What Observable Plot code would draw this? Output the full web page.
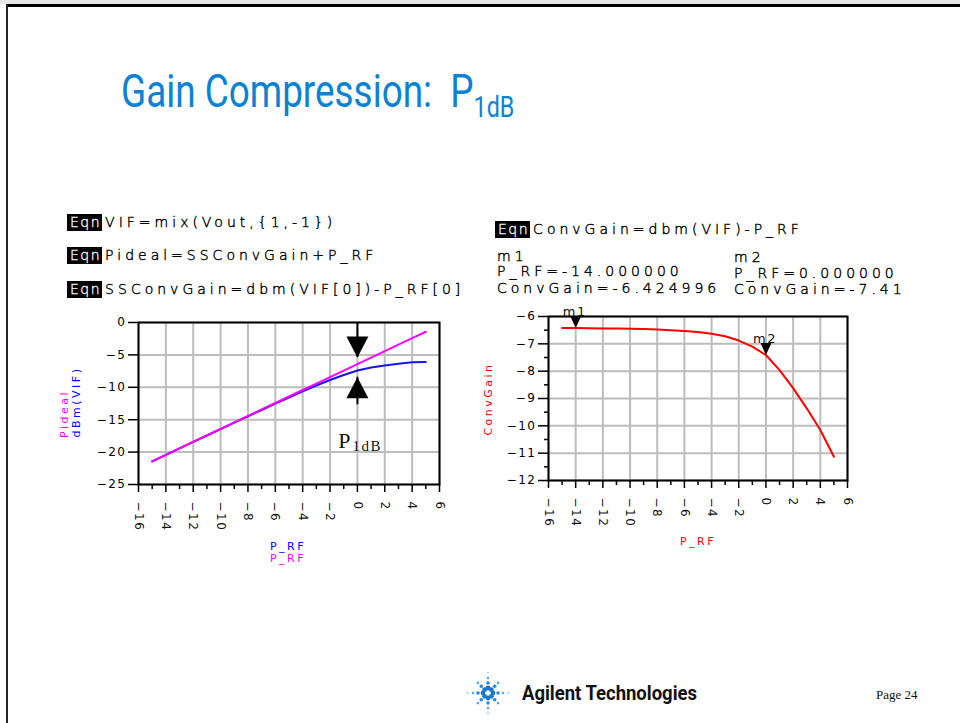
<!DOCTYPE html>
<html><head><meta charset="utf-8">
<script src="https://cdn.jsdelivr.net/npm/d3@7"></script>
<script src="https://cdn.jsdelivr.net/npm/@observablehq/plot@0.6"></script>
<style>
html,body{margin:0;padding:0;background:#fff;}
#page{position:relative;width:960px;height:723px;overflow:hidden;background:#fff;font-family:"DejaVu Sans",sans-serif;}
.abs{position:absolute;white-space:pre;}
.eq{font-size:14px;font-weight:200;-webkit-text-stroke:0.4px #000;letter-spacing:4px;color:#000;line-height:13px;height:13px;}
.eqn{display:inline-block;background:#000;color:#fff;-webkit-text-stroke:0.3px #fff;letter-spacing:1.5px;padding:2px 1px 2px 3px;margin-right:3px;line-height:13px;}
.axl{font-size:11px;letter-spacing:2.5px;transform:translate(-50%,-50%);line-height:11px;}
.rot{transform:translate(-50%,-50%) rotate(-90deg);}
g[aria-label="plain"] text{letter-spacing:0;}
</style></head>
<body><div id="page">
<div class="abs" style="left:0;top:0;width:960px;height:4px;background:#e6e6e6"></div>
<div class="abs" style="left:6px;top:4px;width:954px;height:3px;background:#000"></div>
<div class="abs" style="left:6px;top:4px;width:2px;height:719px;background:#222"></div>

<div id="title" class="abs" style="left:121px;top:68px;font-family:Roboto;font-size:46px;line-height:46px;color:#0a82d4;transform-origin:0 0"><span id="t1">Gain Compression:</span><span>  P</span><span style="font-size:29px;position:relative;top:10px">1dB</span></div>

<div class="abs eq" style="left:67px;top:214px"><span class="eqn">Eqn</span>VIF=mix(Vout,{1,-1})</div>
<div class="abs eq" style="left:67px;top:247px"><span class="eqn">Eqn</span>Pideal=SSConvGain+P_RF</div>
<div class="abs eq" style="left:67px;top:281px"><span class="eqn">Eqn</span>SSConvGain=dbm(VIF[0])-P_RF[0]</div>
<div class="abs eq" style="left:495px;top:221px"><span class="eqn">Eqn</span>ConvGain=dbm(VIF)-P_RF</div>
<div class="abs eq" style="left:497px;top:250px">m1</div>
<div class="abs eq" style="left:497px;top:265px">P_RF=-14.000000</div>
<div class="abs eq" style="left:497px;top:282px">ConvGain=-6.424996</div>
<div class="abs eq" style="left:734px;top:251px">m2</div>
<div class="abs eq" style="left:734px;top:267px">P_RF=0.000000</div>
<div class="abs eq" style="left:734px;top:283px">ConvGain=-7.41</div>

<div id="leftChart" class="abs" style="left:50px;top:300px"></div>
<div id="rightChart" class="abs" style="left:480px;top:300px"></div>

<div class="abs axl rot" style="left:64px;top:414px;color:#ff00ff">Pideal</div>
<div class="abs axl rot" style="left:76px;top:402px;color:#0000ff">dBm(VIF)</div>
<div class="abs axl" style="left:288px;top:546px;color:#0000ff">P_RF</div>
<div class="abs axl" style="left:288px;top:558px;color:#ff00ff">P_RF</div>
<div class="abs axl rot" style="left:488px;top:399px;color:#ff0000">ConvGain</div>
<div class="abs axl" style="left:698px;top:541px;color:#ff0000">P_RF</div>

<svg id="logo" class="abs" style="left:462px;top:667px" width="52" height="52"></svg>
<div id="ag" class="abs" style="left:522px;top:681px;font-family:Roboto;font-weight:bold;font-size:20px;line-height:24px;color:#111;transform-origin:0 0">Agilent Technologies</div>
<div class="abs" style="left:876px;top:687px;font-family:'Liberation Serif',serif;font-size:13px;line-height:16px;color:#111">Page 24</div>
</div>
<script>
// ---------- data ----------
const pRF = [-15,-14,-13,-12,-11,-10,-9,-8,-7,-6,-5,-4,-3,-2,-1,0,1,2,3,4,5];
const convGain = [-6.42,-6.425,-6.43,-6.435,-6.44,-6.45,-6.46,-6.475,-6.50,-6.53,-6.57,-6.63,-6.72,-6.88,-7.10,-7.41,-7.96,-8.62,-9.36,-10.15,-11.13];
const vifDbm = [-21.42,-20.425,-19.43,-18.435,-17.44,-16.45,-15.46,-14.475,-13.50,-12.53,-11.57,-10.63,-9.72,-8.88,-8.10,-7.41,-6.96,-6.62,-6.36,-6.15,-6.10];
const pIdeal = [-21.42,-20.42,-19.42,-18.42,-17.42,-16.42,-15.42,-14.42,-13.42,-12.42,-11.42,-10.42,-9.42,-8.42,-7.42,-6.42,-5.42,-4.42,-3.42,-2.42,-1.43];

const xMajorTicks = [-16,-14,-12,-10,-8,-6,-4,-2,0,2,4,6];
const xMinorTicks = [-15,-13,-11,-9,-7,-5,-3,-1,1,3,5];
const leftYTicks = [0,-5,-10,-15,-20,-25];
const rightYTicks = [-6,-7,-8,-9,-10,-11,-12];
const rightYMinor = [-6.5,-7.5,-8.5,-9.5,-10.5,-11.5];

const markerNames = ["m1","m2"];
const markerX = [-14, 0];
const markerY = [-6.424996, -7.41];

const arrowX = [0];
const arrowDownTip = [-5.4];
const arrowUpTip = [-8.45];
const arrowUpEnd = [-12.7];
const p1dbPos = [-1.4, -19.3];     // "P" position
const p1dbSubPos = [-0.35, -19.9]; // "1dB" position

// ---------- helpers ----------
const fmtTick = d => d < 0 ? "\u2212" + Math.abs(d) : String(d);
const downTri = (w, h) => ({draw(ctx){ctx.moveTo(0,0);ctx.lineTo(-w/2,-h);ctx.lineTo(w/2,-h);ctx.closePath();}});
const upTri = (w, h) => ({draw(ctx){ctx.moveTo(0,0);ctx.lineTo(-w/2,h);ctx.lineTo(w/2,h);ctx.closePath();}});
const gridStyle = {stroke: "#bdbdbd", strokeOpacity: 1, strokeWidth: 2};
const baseStyle = {fontFamily: "DejaVu Sans", fontSize: "12px", letterSpacing: "1.5px", background: "transparent", overflow: "visible", color: "#000"};

const leftRows = pRF.map((p, i) => ({p, vif: vifDbm[i], ideal: pIdeal[i]}));
const rightRows = pRF.map((p, i) => ({p, g: convGain[i]}));
const markers = markerNames.map((name, i) => ({name, x: markerX[i], y: markerY[i]}));

// ---------- left chart ----------
const left = Plot.plot({
  width: 400, height: 280, marginLeft: 88, marginRight: 11, marginTop: 22, marginBottom: 96,
  style: baseStyle,
  x: {domain: [-16, 6], label: null},
  y: {domain: [-25, 0], label: null},
  marks: [
    Plot.gridX(xMajorTicks, gridStyle),
    Plot.gridY(leftYTicks, gridStyle),
    Plot.line(leftRows, {x: "p", y: "vif", stroke: "#1414ff", strokeWidth: 2}),
    Plot.line(leftRows, {x: "p", y: "ideal", stroke: "#ff00ff", strokeWidth: 2}),
    Plot.ruleX(arrowX, {x: d => d, y1: 0, y2: arrowDownTip[0], stroke: "black", strokeWidth: 2}),
    Plot.dot(arrowX, {x: d => d, y: () => arrowDownTip[0], symbol: downTri(22, 21), fill: "black", stroke: "none"}),
    Plot.ruleX(arrowX, {x: d => d, y1: arrowUpTip[0], y2: arrowUpEnd[0], stroke: "black", strokeWidth: 2}),
    Plot.dot(arrowX, {x: d => d, y: () => arrowUpTip[0], symbol: upTri(22, 21), fill: "black", stroke: "none"}),
    Plot.text(["P"], {x: () => p1dbPos[0], y: () => p1dbPos[1], text: d => d, textAnchor: "start", lineAnchor: "bottom", fontFamily: "Liberation Serif", fontSize: 22, fill: "#111", ariaLabel: "plain"}),
    Plot.text(["1dB"], {x: () => p1dbSubPos[0], y: () => p1dbSubPos[1], text: d => d, textAnchor: "start", lineAnchor: "bottom", fontFamily: "Liberation Serif", fontSize: 15, fill: "#111", ariaLabel: "plain"}),
    Plot.frame({stroke: "black", strokeWidth: 2}),
    Plot.axisY(leftYTicks, {tickSize: 10, tickPadding: 2, tickFormat: fmtTick, strokeWidth: 1.5, label: null}),
    Plot.axisX(xMajorTicks, {tickSize: 8, tickFormat: () => "", strokeWidth: 1.5, label: null}),
    Plot.axisX(xMinorTicks, {tickSize: 5, tickFormat: () => "", strokeWidth: 1.5, label: null}),
    Plot.text(xMajorTicks, {x: d => d, frameAnchor: "bottom", dy: 17, rotate: 90, textAnchor: "start", lineAnchor: "middle", text: fmtTick, fill: "#111"})
  ]
});
document.getElementById("leftChart").appendChild(left);

// ---------- right chart ----------
const right = Plot.plot({
  width: 380, height: 260, marginLeft: 68, marginRight: 13, marginTop: 16, marginBottom: 80,
  style: baseStyle,
  x: {domain: [-16, 6], label: null},
  y: {domain: [-12, -6], label: null},
  marks: [
    Plot.gridX(xMajorTicks, gridStyle),
    Plot.gridY(rightYTicks, gridStyle),
    Plot.line(rightRows, {x: "p", y: "g", stroke: "#ff0000", strokeWidth: 2}),
    Plot.dot(markers, {x: "x", y: "y", symbol: downTri(11, 12), fill: "black", stroke: "none"}),
    Plot.text(markers, {x: "x", y: "y", text: "name", dy: -12, dx: -1, lineAnchor: "bottom", fontSize: 13, fill: "#111", ariaLabel: "plain"}),
    Plot.frame({stroke: "black", strokeWidth: 2}),
    Plot.axisY(rightYTicks, {tickSize: 10, tickPadding: 2, tickFormat: fmtTick, strokeWidth: 1.5, label: null}),
    Plot.axisY(rightYMinor, {tickSize: 4, tickFormat: () => "", strokeWidth: 1.5, label: null}),
    Plot.axisX(xMajorTicks, {tickSize: 8, tickFormat: () => "", strokeWidth: 1.5, label: null}),
    Plot.axisX(xMinorTicks, {tickSize: 5, tickFormat: () => "", strokeWidth: 1.5, label: null}),
    Plot.text(xMajorTicks, {x: d => d, frameAnchor: "bottom", dy: 17, rotate: 90, textAnchor: "start", lineAnchor: "middle", text: fmtTick, fill: "#111"})
  ]
});
document.getElementById("rightChart").appendChild(right);

// ---------- title / footer fitting ----------
const title = document.getElementById("title");
const tw = document.getElementById("t1").getBoundingClientRect().width;
title.style.transform = `scaleX(${311 / tw})`;
const ag = document.getElementById("ag");
const aw = ag.getBoundingClientRect().width;
ag.style.transform = `scaleX(${175 / aw})`;

// ---------- logo (decoration) ----------
const logo = d3.select("#logo");
const rings = [5, 10, 15, 20.5];
const dotR = [2.4, 1.8, 1.3, 0.9];
const cols = ["#1878c8", "#2a8ad6", "#56a6e2", "#8cc4ee"];
for (let a = 0; a < 8; a++) {
  const ang = a * Math.PI / 4;
  const diag = a % 2 === 1;
  rings.forEach((r, k) => {
    if (diag && k === 3) return;
    const rr = diag ? r * 0.95 : r;
    logo.append("circle").attr("cx", 26 + rr * Math.cos(ang)).attr("cy", 26 + rr * Math.sin(ang))
      .attr("r", dotR[k]).attr("fill", cols[k]);
  });
}
</script>
</body></html>
